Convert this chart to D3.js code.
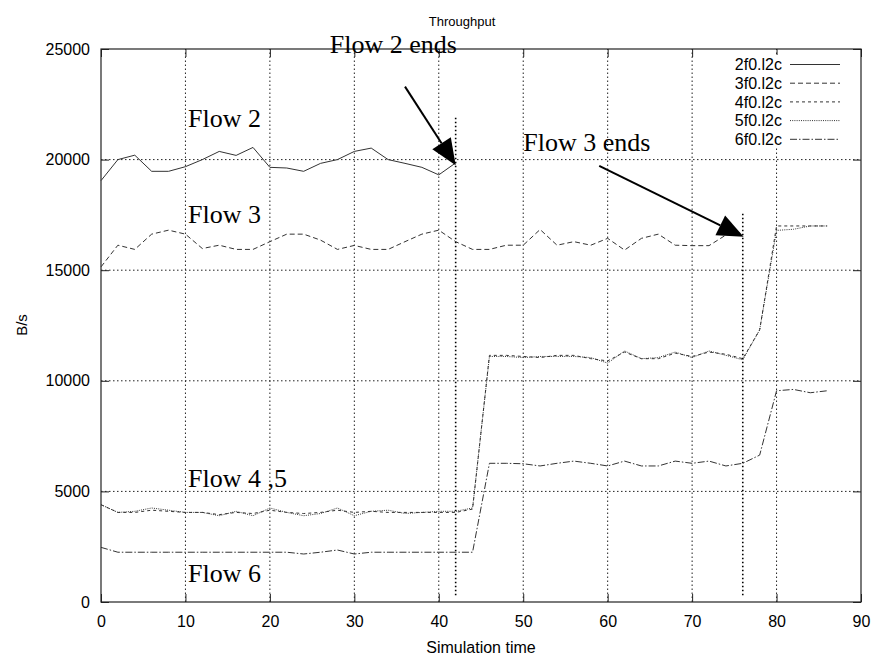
<!DOCTYPE html>
<html>
<head>
<meta charset="utf-8">
<script src="https://cdn.jsdelivr.net/npm/d3@7"></script>
<style>
  body { margin: 0; background: #fff; }
  svg { display: block; }
</style>
</head>
<body>
<svg></svg>
<script>
// time in seconds, one sample every 2 s
let times = d3.range(0, 88, 2);

let flow2 = [19050, 20000, 20200, 19470, 19470, 19680, 20000, 20370, 20190, 20550, 19650,
  19620, 19470, 19830, 20000, 20370, 20520, 20000, 19830, 19650, 19310, 19850];

let flow3 = [15150, 16130, 15940, 16630, 16810, 16630, 15980, 16130, 15940, 15940, 16290,
  16630, 16630, 16360, 15940, 16120, 15940, 15940, 16290, 16630, 16810, 16290, 15940, 15940,
  16130, 16130, 16840, 16130, 16290, 16130, 16440, 15910, 16440, 16630, 16130, 16110, 16110,
  16590, 16700];

let flow4 = [4400, 4050, 4050, 4150, 4100, 4050, 4050, 3950, 4050, 4000, 4150, 4050, 4000,
  4050, 4150, 4050, 4100, 4050, 4050, 4050, 4050, 4050, 4200, 11150, 11150, 11100, 11050,
  11150, 11150, 11000, 10900, 11300, 11000, 11000, 11250, 11100, 11300, 11200, 11000, 12300,
  17000, 17000, 17000, 17000];

let flow5 = [4400, 4050, 4100, 4250, 4150, 4050, 4050, 3900, 4100, 3900, 4250, 4050, 3900,
  4000, 4250, 3900, 4100, 4150, 4000, 4050, 4100, 4100, 4250, 11100, 11100, 11050, 11100,
  11100, 11100, 11050, 10800, 11350, 11000, 11050, 11300, 11050, 11350, 11150, 10950, 12300,
  16800, 16850, 17000, 17000];

let flow6 = [2470, 2250, 2250, 2250, 2250, 2250, 2250, 2250, 2250, 2250, 2250, 2250, 2170,
  2250, 2350, 2170, 2250, 2250, 2250, 2250, 2250, 2250, 2250, 6270, 6270, 6250, 6150, 6270,
  6370, 6270, 6150, 6370, 6150, 6150, 6370, 6270, 6370, 6150, 6270, 6640, 9550, 9610, 9460,
  9550];

let seriesNames = ["2f0.l2c", "3f0.l2c", "4f0.l2c", "5f0.l2c", "6f0.l2c"];
let seriesValues = [flow2, flow3, flow4, flow5, flow6];

let xTicks = [0, 10, 20, 30, 40, 50, 60, 70, 80, 90];
let yTicks = [0, 5000, 10000, 15000, 20000, 25000];

// text notes on the plot, in data units
let notes = [
  { text: "Flow 2", x: 10.3, y: 21480 },
  { text: "Flow 3", x: 10.3, y: 17130 },
  { text: "Flow 4 ,5", x: 10.3, y: 5210 },
  { text: "Flow 6", x: 10.3, y: 920 },
  { text: "Flow 2 ends", x: 27.1, y: 24800 },
  { text: "Flow 3 ends", x: 50, y: 20400 },
];
let arrows = [
  { x1: 36, y1: 23300, x2: 42, y2: 19750 },
  { x1: 59, y1: 19720, x2: 76.1, y2: 16510 },
];
let endMarks = [
  { x: 42, y1: 300, y2: 22000 },
  { x: 76, y1: 300, y2: 17600 },
];

let width = 871;
let height = 657;
let margin = { top: 49, right: 10, bottom: 55, left: 101 };

let svg = d3.select("svg").attr("width", width).attr("height", height);

let x = d3.scaleLinear().domain([0, 90]).range([margin.left, width - margin.right]);
let y = d3.scaleLinear().domain([0, 25000]).range([height - margin.bottom, margin.top]);

let sans = "'Liberation Sans', Arial, Helvetica, sans-serif";
let serif = "'Liberation Serif', 'Times New Roman', serif";
let ink = "#222";

// dotted grid
svg.append("g")
  .selectAll("line")
  .data(xTicks.slice(1, -1))
  .join("line")
  .attr("x1", (d) => x(d)).attr("x2", (d) => x(d))
  .attr("y1", y(0)).attr("y2", y(25000))
  .style("stroke", ink).style("stroke-width", 1)
  .style("stroke-dasharray", "1.5,2.5");

svg.append("g")
  .selectAll("line")
  .data(yTicks.slice(1, -1))
  .join("line")
  .attr("x1", x(0)).attr("x2", x(90))
  .attr("y1", (d) => y(d)).attr("y2", (d) => y(d))
  .style("stroke", ink).style("stroke-width", 1)
  .style("stroke-dasharray", "1.5,2.5");

// inner ticks on all four sides
let tickLen = 8;
svg.append("g").attr("transform", `translate(0,${y(0)})`)
  .call(d3.axisBottom(x).tickValues(xTicks).tickSize(-tickLen).tickFormat(""));
svg.append("g").attr("transform", `translate(0,${y(25000)})`)
  .call(d3.axisTop(x).tickValues(xTicks).tickSize(-tickLen).tickFormat(""));
svg.append("g").attr("transform", `translate(${x(0)},0)`)
  .call(d3.axisLeft(y).tickValues(yTicks).tickSize(-tickLen).tickFormat(""));
svg.append("g").attr("transform", `translate(${x(90)},0)`)
  .call(d3.axisRight(y).tickValues(yTicks).tickSize(-tickLen).tickFormat(""));

// tick labels
let xLab = svg.append("g").attr("transform", `translate(0,${y(0)})`)
  .call(d3.axisBottom(x).tickValues(xTicks).tickSize(0).tickPadding(14).tickFormat(d3.format("d")));
let yLab = svg.append("g").attr("transform", `translate(${x(0)},0)`)
  .call(d3.axisLeft(y).tickValues(yTicks).tickSize(0).tickPadding(11).tickFormat(d3.format("d")));

for (let g of [xLab, yLab]) {
  g.select(".domain").remove();
  g.selectAll("text").style("font-family", sans).style("font-size", "16px").style("fill", "#000");
}
svg.selectAll(".domain").remove();
svg.selectAll(".tick line").style("stroke", ink);

// plot frame
svg.append("rect")
  .attr("x", x(0)).attr("y", y(25000))
  .attr("width", x(90) - x(0)).attr("height", y(0) - y(25000))
  .style("fill", "none").style("stroke", ink).style("stroke-width", 1.2);

// legend box hides the grid behind it
svg.append("rect")
  .attr("x", 722).attr("y", 55).attr("width", 130).attr("height", 92)
  .style("fill", "#fff");

let dashes = ["none", "5,3", "3,3", "1,1.2", "7,2,1.5,2"];

let line = d3.line().x((d) => x(d[0])).y((d) => y(d[1]));

svg.append("g")
  .selectAll("path")
  .data(seriesValues)
  .join("path")
  .attr("d", (vals) => line(vals.map((v, i) => [times[i], v])))
  .style("fill", "none")
  .style("stroke", "#333")
  .style("stroke-width", 1)
  .style("stroke-dasharray", (d, i) => dashes[i]);

// legend
let yPlacement = 64.5;
seriesNames.forEach((name, i) => {
  svg.append("text")
    .attr("x", 782).attr("y", yPlacement).attr("dy", "0.35em")
    .attr("text-anchor", "end")
    .style("font-family", sans).style("font-size", "16px")
    .text(name);
  svg.append("line")
    .attr("x1", 790).attr("x2", 840)
    .attr("y1", yPlacement).attr("y2", yPlacement)
    .style("stroke", "#333").style("stroke-width", 1)
    .style("stroke-dasharray", dashes[i]);
  yPlacement += 18.7;
});

// where flows 2 and 3 stop
svg.append("g")
  .selectAll("line")
  .data(endMarks)
  .join("line")
  .attr("x1", (d) => x(d.x)).attr("x2", (d) => x(d.x))
  .attr("y1", (d) => y(d.y1)).attr("y2", (d) => y(d.y2))
  .style("stroke", "#000").style("stroke-width", 1.6)
  .style("stroke-dasharray", "1.6,2.4");

// arrows with filled heads
for (let a of arrows) {
  let x1 = x(a.x1), y1 = y(a.y1), x2 = x(a.x2), y2 = y(a.y2);
  let ang = Math.atan2(y2 - y1, x2 - x1);
  let headLen = 26, headW = 11;
  let bx = x2 - headLen * Math.cos(ang);
  let by = y2 - headLen * Math.sin(ang);
  svg.append("line")
    .attr("x1", x1).attr("y1", y1).attr("x2", bx).attr("y2", by)
    .style("stroke", "#000").style("stroke-width", 2);
  let pts = [
    [x2, y2],
    [bx + headW * Math.sin(ang), by - headW * Math.cos(ang)],
    [bx - headW * Math.sin(ang), by + headW * Math.cos(ang)],
  ];
  svg.append("polygon")
    .attr("points", pts.map((p) => p.join(",")).join(" "))
    .style("fill", "#000");
}

svg.append("g")
  .selectAll("text")
  .data(notes)
  .join("text")
  .attr("x", (d) => x(d.x))
  .attr("y", (d) => y(d.y))
  .style("font-family", serif)
  .style("font-size", "26px")
  .text((d) => d.text);

// titles
svg.append("text")
  .attr("x", 462).attr("y", 26)
  .attr("text-anchor", "middle")
  .style("font-family", sans).style("font-size", "13px")
  .text("Throughput");

svg.append("text")
  .attr("x", (x(0) + x(90)) / 2).attr("y", 653)
  .attr("text-anchor", "middle")
  .style("font-family", sans).style("font-size", "16px")
  .text("Simulation time");

svg.append("text")
  .attr("transform", "translate(27,325) rotate(-90)")
  .attr("text-anchor", "middle")
  .style("font-family", sans).style("font-size", "15px")
  .text("B/s");
</script>
</body>
</html>
